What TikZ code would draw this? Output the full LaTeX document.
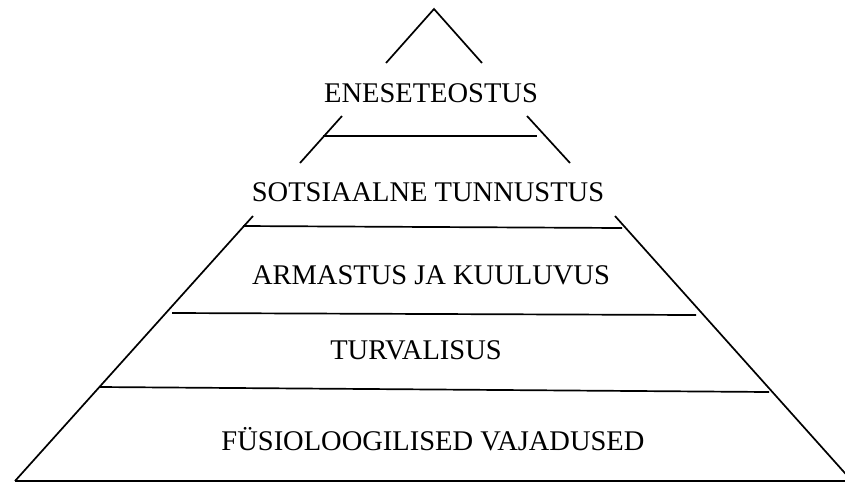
\documentclass[tikz,border=0pt]{standalone}
\usepackage{fontspec}
\setmainfont{Liberation Serif}
\usepackage{xcolor}
\definecolor{Ink}{HTML}{000000}
\usepackage{tikz}
\usetikzlibrary{calc}

\begin{document}
\begin{tikzpicture}[x=1pt, y=-1pt,
  edge/.style={draw=Ink, line width=1.7pt},
  tier/.style={anchor=base, inner sep=0pt, text=Ink,
               font=\fontsize{28.5}{30}\selectfont}
]
\useasboundingbox (0,0) rectangle (845,483);

%% ---- Pyramid corners ----
\coordinate (apex)  at (434,   9);
\coordinate (baseL) at ( 15, 481);
\coordinate (baseR) at (852, 481);

%% ---- Tier labels (bottom to top) ----
\node[tier] (fysio)   at (433, 450) {FÜSIOLOOGILISED VAJADUSED};
\node[tier] (turva)   at (416, 359) {TURVALISUS};
\node[tier] (armastus) at (431, 284) {ARMASTUS JA KUULUVUS};
\node[tier] (sots)    at (428, 201) {SOTSIAALNE TUNNUSTUS};
\node[tier] (enese)   at (431, 102) {ENESETEOSTUS};

%% ---- Sides, broken where the top two labels sit ----
\draw[edge] (386,63) -- (apex) -- (482,63);
\draw[edge] (342,116) -- (300,163);
\draw[edge] (527,116) -- (570,163);
\draw[edge] (253,216) -- (baseL);
\draw[edge] (615,216) -- (baseR);

%% ---- Tier dividers ----
\draw[edge] (323,136) -- (537,136);
\draw[edge] (243,226) -- (622,228);
\draw[edge] (172,313) -- (696,315);
\draw[edge] (100,387) -- (769,392);
\draw[edge] (baseL) -- (baseR);

\end{tikzpicture}
\end{document}
